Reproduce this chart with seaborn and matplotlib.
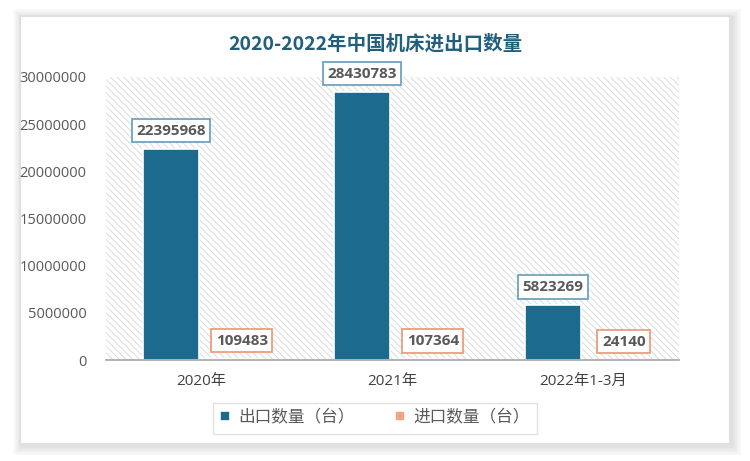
import matplotlib
matplotlib.use("Agg")
import matplotlib.pyplot as plt
import seaborn as sns
import pandas as pd
from matplotlib.patches import Rectangle

categories = ["2020年", "2021年", "2022年1-3月"]
series = ["出口数量（台）", "进口数量（台）"]
export_vals = [22395968, 28430783, 5823269]
import_vals = [109483, 107364, 24140]
y_ticks = [0, 5000000, 10000000, 15000000, 20000000, 25000000, 30000000]
title = "2020-2022年中国机床进出口数量"

colors = ["#1C6A8D", "#F2A283"]
box_edges = ["#6FA3BF", "#EE9C7E"]
text_gray = "#595959"

df = pd.DataFrame({
    "category": categories * 2,
    "series": [series[0]] * 3 + [series[1]] * 3,
    "value": export_vals + import_vals,
})

sns.set_theme(style="white")
plt.rcParams["font.family"] = ["Open Sans", "Noto Sans CJK SC", "DejaVu Sans"]
plt.rcParams["hatch.linewidth"] = 0.6

W, H = 750, 461
fig = plt.figure(figsize=(7.5, 4.61), dpi=100)

# outer frame with soft shadow
for i in range(6):
    d = (i + 1) * 1.5
    fig.patches.append(Rectangle(((20 - d + 2) / W, 1 - (444 + d + 2) / H),
                                 (710 + 2 * d) / W, (428 + 2 * d) / H,
                                 transform=fig.transFigure, facecolor="black",
                                 edgecolor="none", alpha=0.018, zorder=0))
fig.patches.append(Rectangle((20 / W, 1 - 444 / H), 710 / W, 428 / H,
                             transform=fig.transFigure, facecolor="white",
                             edgecolor="#E0E0E0", lw=1.5, zorder=1))

ax = fig.add_axes([106 / W, 1 - 360 / H, (679 - 106) / W, (360 - 77) / H])
ax.set_zorder(2)
ax.patch.set_facecolor("white")
ax.patch.set_hatch("\\\\\\\\\\")
ax.patch.set_edgecolor("#D6D6D6")
ax.patch.set_linewidth(0)

sns.barplot(data=df, x="category", y="value", hue="series", order=categories,
            hue_order=series, palette=colors, saturation=1, width=0.64, gap=0.08,
            edgecolor="white", linewidth=1.2, ax=ax, zorder=3)

ax.set_ylim(0, 30000000)
ax.set_yticks(y_ticks)
ax.set_yticklabels([str(v) for v in y_ticks], fontsize=10.5, color=text_gray)
ax.tick_params(axis="x", labelsize=11, colors="#404040", pad=10, length=0)
ax.tick_params(axis="y", length=0, pad=14)
for lab in ax.get_xticklabels():
    lab.set_color("#404040")
ax.set_xlabel("")
ax.set_ylabel("")
for s in ["top", "right", "left"]:
    ax.spines[s].set_visible(False)
ax.spines["bottom"].set_color("#A6A6A6")
ax.spines["bottom"].set_linewidth(1.2)
ax.spines["bottom"].set_zorder(4)

# data labels
for ci, cont in enumerate(ax.containers[:2]):
    for bar in cont:
        h = bar.get_height()
        x = bar.get_x() + bar.get_width() / 2
        dx = 0 if ci == 0 else 7
        ax.annotate(f"{int(round(h))}", (x, h), xytext=(dx, 13),
                    textcoords="offset points", ha="center", va="center",
                    fontsize=11, fontweight="bold", color=text_gray, zorder=6,
                    bbox=dict(boxstyle="square,pad=0.3", fc="white",
                              ec=box_edges[ci], lw=1.3))

leg = ax.legend(loc="center", bbox_to_anchor=(375 / W, 1 - 418 / H),
                bbox_transform=fig.transFigure, ncol=2, frameon=True,
                fancybox=False, edgecolor="#D9D9D9", fontsize=12,
                handlelength=0.6, handleheight=0.6, columnspacing=2.4,
                handletextpad=0.5, borderpad=0.45)
leg.get_frame().set_linewidth(1.0)
for t in leg.get_texts():
    t.set_color(text_gray)

fig.text(375 / W, 1 - 44 / H, title, ha="center", va="center", fontsize=14,
         fontweight="bold", color="#215F7D",
         family=["Noto Sans CJK SC", "DejaVu Sans"], zorder=5)

fig.savefig("out.png", dpi=100)
